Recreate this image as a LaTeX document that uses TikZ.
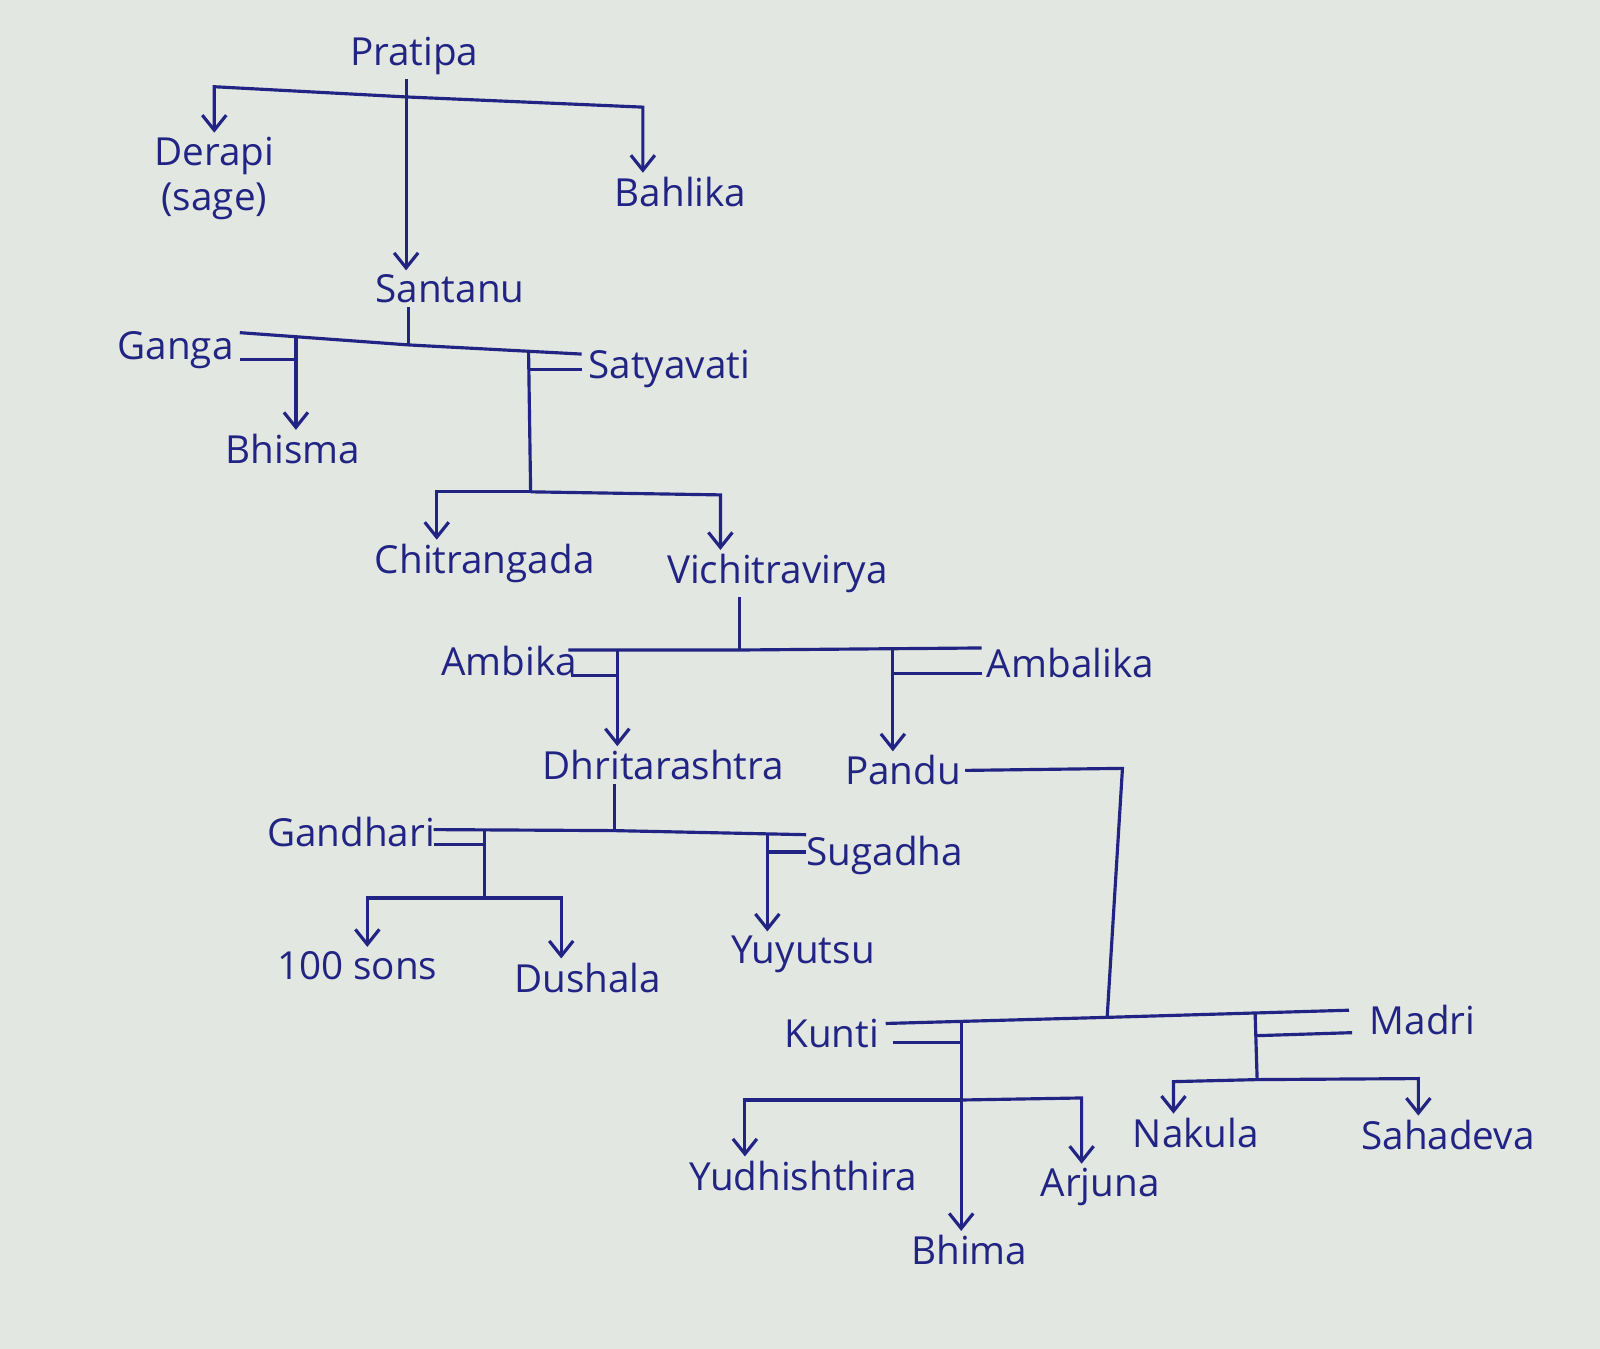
\documentclass[tikz,border=0pt]{standalone}
\usepackage{fontspec}
\setmainfont{Open Sans}
\usetikzlibrary{positioning, arrows.meta, calc}

\definecolor{ink}{RGB}{34,36,132}
\definecolor{paper}{RGB}{226,231,225}

\begin{document}
\begin{tikzpicture}[
    x=0.0102041cm, y=-0.0102041cm,
    font=\fontsize{11}{13}\selectfont,
    person/.style={
        text=ink, inner sep=1pt,
        align=center
    },
    link/.style={draw=ink, line width=0.9pt},
    child/.style={link, -{Straight Barb[length=1.5mm, width=2.4mm]}}
]

% ============ Paper ============
\fill[paper] (0,0) rectangle (1568,1322);
\useasboundingbox (0,0) rectangle (1568,1322);

% ============ People ============
\node[person] (pratipa) at (406,55) {Pratipa};
\node[person] (derapi) at (210,175) {Derapi\\(sage)};
\node[person] (bahlika) at (667,188) {Bahlika};
\node[person] (santanu) at (441,283) {Santanu};
\node[person] (ganga) at (172,343) {Ganga};
\node[person] (bhisma) at (287,440) {Bhisma};
\node[person] (satyavati) at (656,362) {Satyavati};
\node[person] (chitrangada) at (475,552) {Chitrangada};
\node[person] (vichitravirya) at (762,562) {Vichitravirya};
\node[person] (ambika) at (499,648) {Ambika};
\node[person] (ambalika) at (1049,650) {Ambalika};
\node[person] (dhritarashtra) at (650,750) {Dhritarashtra};
\node[person] (pandu) at (885,755) {Pandu};
\node[person] (gandhari) at (344,815) {Gandhari};
\node[person] (sugadha) at (867,838) {Sugadha};
\node[person] (sons) at (350,946) {100 sons};
\node[person] (dushala) at (576,958) {Dushala};
\node[person] (yuyutsu) at (787,935) {Yuyutsu};
\node[person] (kunti) at (815,1013) {Kunti};
\node[person] (madri) at (1394,1000) {Madri};
\node[person] (yudhishthira) at (787,1152) {Yudhishthira};
\node[person] (bhima) at (950,1225) {Bhima};
\node[person] (arjuna) at (1078,1163) {Arjuna};
\node[person] (nakula) at (1172,1110) {Nakula};
\node[person] (sahadeva) at (1419,1112) {Sahadeva};

% ============ Junctions ============
\coordinate (pj) at (398,95);
\coordinate (pl) at (210,85);
\coordinate (pr) at (630,105);

\coordinate (sj) at (400,338);
\coordinate (ga) at (235,326);
\coordinate (gb) at (235,352);
\coordinate (gtop) at (290,330);
\coordinate (gbj) at (290,352);
\coordinate (sa) at (570,347);
\coordinate (sb) at (570,362);
\coordinate (stop) at (518,345);
\coordinate (sbj) at (518,362);
\coordinate (sc) at (520,482);
\coordinate (cl) at (428,482);
\coordinate (cr) at (706,485);

\coordinate (vj) at (725,637);
\coordinate (aa) at (557,637);
\coordinate (ab) at (962,635);
\coordinate (aa2) at (560,662);
\coordinate (atop) at (605,637);
\coordinate (abj) at (605,662);
\coordinate (btop) at (875,636);
\coordinate (bbj) at (875,660);
\coordinate (ab2) at (962,660);

\coordinate (pk1) at (1100,753);
\coordinate (pkj) at (1085,997);

\coordinate (dj) at (602,814);
\coordinate (ha) at (425,813);
\coordinate (hb) at (790,818);
\coordinate (ha2) at (425,828);
\coordinate (htop) at (475,814);
\coordinate (hbj) at (475,828);
\coordinate (hc) at (475,880);
\coordinate (hl) at (360,880);
\coordinate (hr) at (550,880);
\coordinate (utop) at (752,817);
\coordinate (ubj) at (752,835);
\coordinate (hb2) at (790,835);

\coordinate (ka) at (868,1003);
\coordinate (ma) at (1322,990);
\coordinate (ka2) at (875,1022);
\coordinate (ktop) at (942,1001);
\coordinate (kbj) at (942,1022);
\coordinate (kc) at (942,1078);
\coordinate (kl) at (730,1078);
\coordinate (kr) at (1060,1076);
\coordinate (mtop) at (1230,993);
\coordinate (mbj) at (1230,1015);
\coordinate (ma2) at (1325,1012);
\coordinate (mc) at (1232,1058);
\coordinate (nl) at (1150,1060);
\coordinate (nr) at (1390,1057);

% ============ Pratipa ============
\draw[link] (pratipa.south -| pj) -- (pj);
\draw[child] (pj) -- (pl) -- (derapi.north -| pl);
\draw[child] (pj) -- (pr) -- (bahlika.north -| pr);
\draw[child] (pj) -- (santanu.north -| pj);

% ============ Santanu ============
\draw[link] (santanu.south -| sj) -- (sj);
\draw[link] (ga) -- (sj) -- (sa);
\draw[link] (gb) -- (gbj);
\draw[child] (gtop) -- (bhisma.north -| gtop);
\draw[link] (sbj) -- (sb);
\draw[link] (stop) -- (sc);
\draw[child] (sc) -- (cl) -- (chitrangada.north -| cl);
\draw[child] (sc) -- (cr) -- (vichitravirya.north -| cr);

% ============ Vichitravirya ============
\draw[link] (vichitravirya.south -| vj) -- (vj);
\draw[link] (aa) -- (vj) -- (ab);
\draw[link] (aa2) -- (abj);
\draw[child] (atop) -- (dhritarashtra.north -| atop);
\draw[link] (bbj) -- (ab2);
\draw[child] (btop) -- (pandu.north -| btop);
\draw[link] (pandu.east) -- (pk1) -- (pkj);

% ============ Dhritarashtra ============
\draw[link] (dhritarashtra.south -| dj) -- (dj);
\draw[link] (ha) -- (dj) -- (hb);
\draw[link] (ha2) -- (hbj);
\draw[link] (htop) -- (hc);
\draw[child] (hc) -- (hl) -- (sons.north -| hl);
\draw[child] (hc) -- (hr) -- (dushala.north -| hr);
\draw[link] (ubj) -- (hb2);
\draw[child] (utop) -- (yuyutsu.north -| utop);

% ============ Pandu ============
\draw[link] (ka) -- (pkj) -- (ma);
\draw[link] (ka2) -- (kbj);
\draw[link] (ktop) -- (kc);
\draw[child] (kc) -- (bhima.north -| kc);
\draw[child] (kc) -- (kl) -- (yudhishthira.north -| kl);
\draw[child] (kc) -- (kr) -- (arjuna.north -| kr);
\draw[link] (mbj) -- (ma2);
\draw[link] (mtop) -- (mc);
\draw[child] (mc) -- (nl) -- (nakula.north -| nl);
\draw[child] (mc) -- (nr) -- (sahadeva.north -| nr);

\end{tikzpicture}
\end{document}
